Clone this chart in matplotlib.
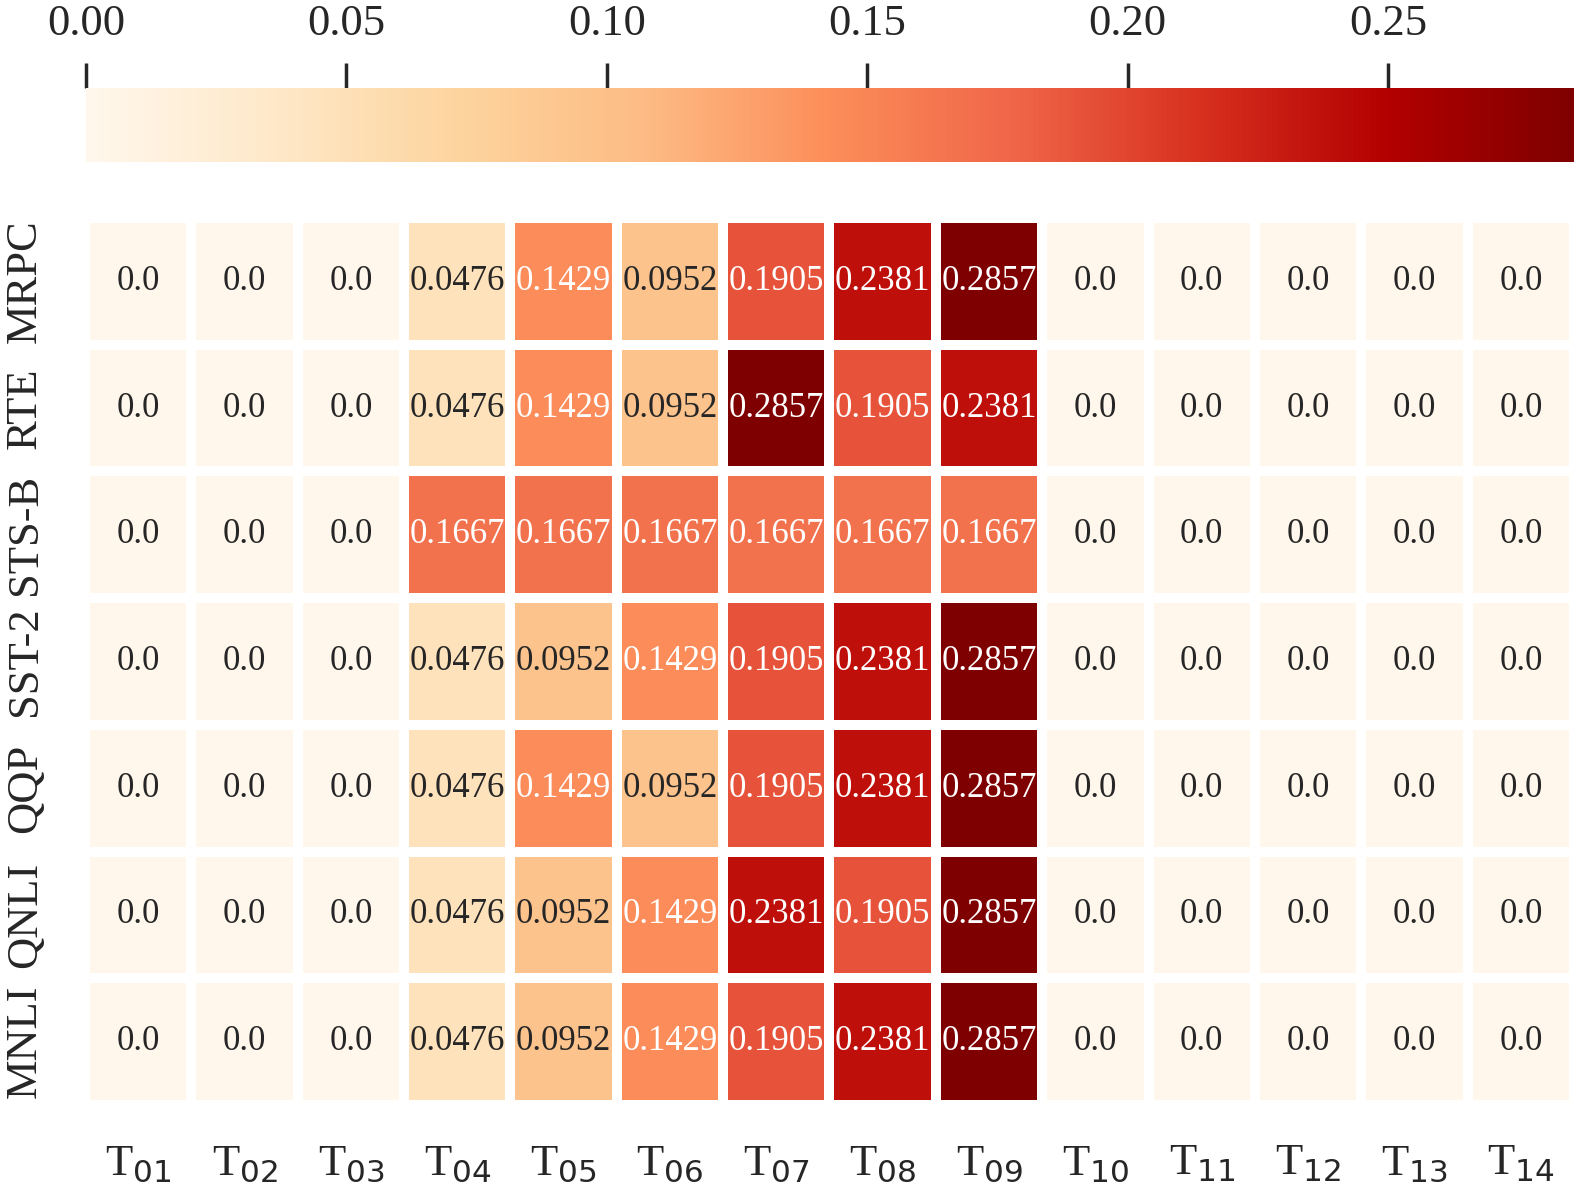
import numpy as np
import matplotlib
matplotlib.use("Agg")
import matplotlib.pyplot as plt
import seaborn as sns

rows = ["MRPC", "RTE", "STS-B", "SST-2", "QQP", "QNLI", "MNLI"]
cols = ["T$_{%02d}$" % i for i in range(1, 15)]

mrpc = [0, 0, 0, 0.0476, 0.1429, 0.0952, 0.1905, 0.2381, 0.2857, 0, 0, 0, 0, 0]
rte  = [0, 0, 0, 0.0476, 0.1429, 0.0952, 0.2857, 0.1905, 0.2381, 0, 0, 0, 0, 0]
stsb = [0, 0, 0, 0.1667, 0.1667, 0.1667, 0.1667, 0.1667, 0.1667, 0, 0, 0, 0, 0]
sst2 = [0, 0, 0, 0.0476, 0.0952, 0.1429, 0.1905, 0.2381, 0.2857, 0, 0, 0, 0, 0]
qqp  = [0, 0, 0, 0.0476, 0.1429, 0.0952, 0.1905, 0.2381, 0.2857, 0, 0, 0, 0, 0]
qnli = [0, 0, 0, 0.0476, 0.0952, 0.1429, 0.2381, 0.1905, 0.2857, 0, 0, 0, 0, 0]
mnli = [0, 0, 0, 0.0476, 0.0952, 0.1429, 0.1905, 0.2381, 0.2857, 0, 0, 0, 0, 0]

data = np.array([mrpc, rte, stsb, sst2, qqp, qnli, mnli], dtype=float)
annot = np.array([["0.0" if v == 0 else "%.4f" % v for v in r] for r in data])

sns.set_theme(style="white")
plt.rcParams["font.family"] = ["Liberation Serif", "DejaVu Sans"]
plt.rcParams["mathtext.fontset"] = "dejavusans"
plt.rcParams["text.color"] = "#262626"
plt.rcParams["xtick.color"] = "#262626"
plt.rcParams["ytick.color"] = "#262626"

fig = plt.figure(figsize=(15.8, 11.94), dpi=100)
W, H = 1580, 1194
ax = fig.add_axes([85 / W, 1 - 1105 / H, 1489 / W, (1105 - 218) / H])
cax = fig.add_axes([86 / W, 1 - 162 / H, 1488 / W, 74 / H])

sns.heatmap(data, ax=ax, cbar_ax=cax, cmap="OrRd", vmin=0, vmax=0.2857,
            annot=annot, fmt="", annot_kws={"fontsize": 25},
            linewidths=7, linecolor="white",
            cbar_kws={"orientation": "horizontal"},
            xticklabels=cols, yticklabels=rows)

ax.tick_params(axis="x", length=0, pad=28, labelsize=32)
ax.tick_params(axis="y", length=0, pad=29, labelsize=32)
ax.set_yticklabels(rows, rotation=90, va="center")
ax.set_xticklabels(cols, rotation=0)

cax.xaxis.set_ticks_position("top")
cax.set_xticks([0, 0.05, 0.10, 0.15, 0.20, 0.25])
cax.set_xticklabels(["0.00", "0.05", "0.10", "0.15", "0.20", "0.25"])
cax.tick_params(axis="x", length=18, width=2.5, pad=14, labelsize=32,
                direction="out", top=True, bottom=False)
cax.tick_params(axis="y", left=False, right=False)
for s in cax.spines.values():
    s.set_visible(False)

fig.savefig("out.png", dpi=100)
